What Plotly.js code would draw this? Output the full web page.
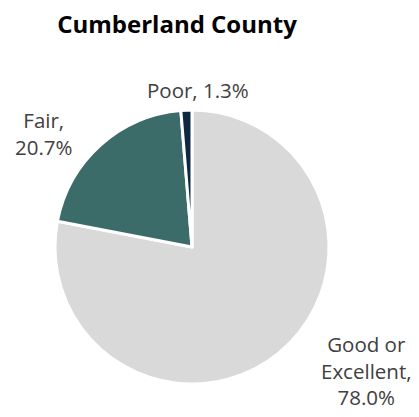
<!DOCTYPE html>
<html>
<head>
<meta charset="utf-8">
<script src="https://cdn.plot.ly/plotly-3.0.1.min.js"></script>
<style>html,body{margin:0;padding:0;background:#fff;}#chart{width:419px;height:417px;}</style>
</head>
<body>
<div id="chart"></div>
<script>
var categories = ['Good or Excellent', 'Fair', 'Poor'];
var values = [78.0, 20.7, 1.3];
var colors = ['#d9d9d9', '#3b6c6a', '#0e2841'];
// how each label is broken into lines before the value
var labelLines = [['Good or', 'Excellent,'], ['Fair,'], ['Poor,']];
var valueOnSameLine = [false, false, true];

var W = 419, H = 417;
var labelPos = [
  {x: 366, y: 370},
  {x: 44, y: 133},
  {x: 198, y: 90}
];

var annotations = categories.map(function (c, i) {
  var lines = labelLines[i].slice();
  var v = values[i].toFixed(1) + '%';
  if (valueOnSameLine[i]) lines[lines.length - 1] += ' ' + v; else lines.push(v);
  return {
    xref: 'paper', yref: 'paper',
    x: labelPos[i].x / W, y: 1 - labelPos[i].y / H,
    xanchor: 'center', yanchor: 'middle', align: 'center',
    showarrow: false, text: lines.join('<br>'),
    font: {family: 'Open Sans, sans-serif', size: 20.5, color: '#404040'}
  };
});

var trace = {
  type: 'pie',
  labels: categories,
  values: values,
  sort: false,
  direction: 'clockwise',
  rotation: 0,
  marker: {colors: colors, line: {color: '#ffffff', width: 3}},
  textinfo: 'none',
  hoverinfo: 'label+percent',
  showlegend: false,
  domain: {x: [55 / W, 329 / W], y: [1 - 384 / H, 1 - 110 / H]}
};

var layout = {
  width: W, height: H,
  margin: {l: 0, r: 0, t: 0, b: 0},
  paper_bgcolor: '#ffffff',
  title: {
    text: '<b>Cumberland County</b>',
    x: 177 / W, xanchor: 'center', xref: 'paper',
    y: 1 - 25 / H, yanchor: 'middle', yref: 'container',
    font: {family: 'Open Sans, sans-serif', size: 24, color: '#000000'}
  },
  annotations: annotations
};

Plotly.newPlot('chart', [trace], layout, {displayModeBar: false, staticPlot: true});
</script>
</body>
</html>
